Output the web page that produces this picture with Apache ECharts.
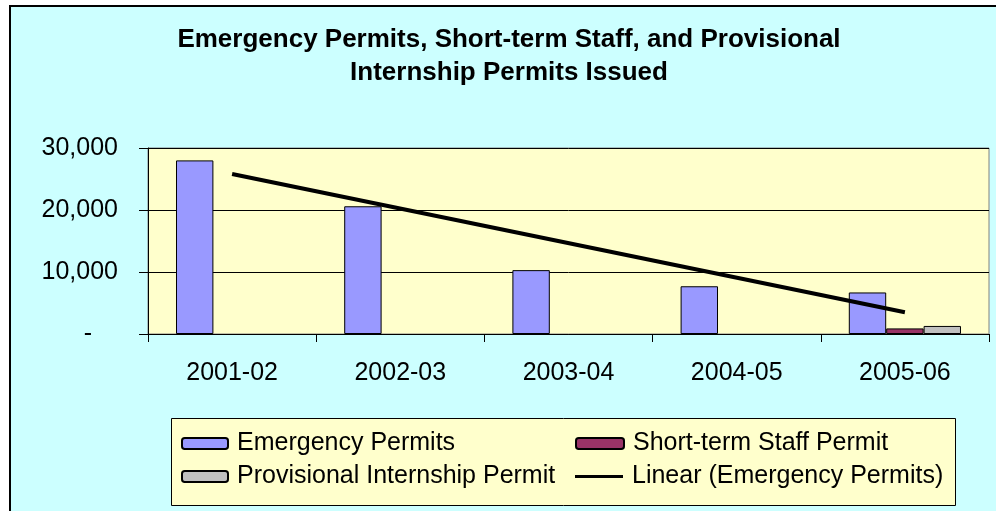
<!DOCTYPE html>
<html>
<head>
<meta charset="utf-8">
<title>Emergency Permits</title>
<script src="https://cdn.jsdelivr.net/npm/echarts@6/dist/echarts.min.js"></script>
<style>
  html, body { margin: 0; padding: 0; background: #fff; }
  #chart { width: 996px; height: 511px; }
</style>
</head>
<body>
<div id="chart"></div>
<script>
// 学年
const years = ['2001-02', '2002-03', '2003-04', '2004-05', '2005-06']
// 各类许可数量
const emergency = [28000, 20600, 10300, 7700, 6700]
const shortTerm = [null, null, null, null, 900]
const provisional = [null, null, null, null, 1300]
// 线性趋势线，只取两端读数
const trend = [25800, '-', '-', '-', 3500]
const yTicks = [0, 10000, 20000, 30000]

const font = '"Liberation Sans", Arial, sans-serif'
const chart = echarts.init(document.getElementById('chart'), null, { renderer: 'canvas' })

const barStyle = (color) => ({ color: color, borderColor: '#000', borderWidth: 1 })
const legendText = { fontFamily: font, fontSize: 25, color: '#000', padding: [0, 0, 0, 4] }

chart.setOption({
  animation: false,
  textStyle: { fontFamily: font, color: '#000' },
  title: {
    text: 'Emergency Permits, Short-term Staff, and Provisional\nInternship Permits Issued',
    left: 509,
    top: 23,
    textAlign: 'center',
    padding: 0,
    textStyle: { fontFamily: font, fontSize: 26, fontWeight: 'bold', lineHeight: 33, color: '#000' }
  },
  graphic: [
    // 外框
    {
      type: 'rect', z: -10, silent: true,
      shape: { x: 10, y: 6, width: 1000, height: 520 },
      style: { fill: '#CCFFFF', stroke: '#000', lineWidth: 2 }
    },
    // 图例框
    {
      type: 'rect', z: -5, silent: true,
      shape: { x: 171.5, y: 418.5, width: 784, height: 87 },
      style: { fill: '#FFFFCC', stroke: '#000', lineWidth: 1 }
    }
  ],
  grid: {
    left: 148, right: 7, top: 148, bottom: 177,
    show: true, backgroundColor: '#FFFFCC', borderColor: '#808080', borderWidth: 1
  },
  legend: [
    {
      orient: 'vertical', left: 181, top: 431, padding: 0,
      itemWidth: 46, itemHeight: 11, itemGap: 8,
      textStyle: legendText,
      data: ['Emergency Permits', 'Provisional Internship Permit']
    },
    {
      orient: 'vertical', left: 575, top: 431, padding: 0,
      itemWidth: 48, itemHeight: 11, itemGap: 8,
      textStyle: legendText,
      data: ['Short-term Staff Permit']
    },
    {
      orient: 'vertical', left: 575, top: 464, padding: 0,
      itemWidth: 48, itemHeight: 3,
      icon: 'rect',
      itemStyle: { color: '#000', borderWidth: 0 },
      textStyle: legendText,
      data: ['Linear (Emergency Permits)']
    }
  ],
  xAxis: {
    type: 'category',
    data: years,
    boundaryGap: true,
    axisLine: { lineStyle: { color: '#000', width: 1 } },
    axisTick: { show: true, length: 8, lineStyle: { color: '#000' } },
    axisLabel: { fontFamily: font, fontSize: 25, color: '#000', margin: 27 },
    splitLine: { show: false }
  },
  yAxis: {
    type: 'value',
    min: yTicks[0],
    max: yTicks[yTicks.length - 1],
    interval: 10000,
    axisLine: { show: true, lineStyle: { color: '#000', width: 1 } },
    axisTick: { show: true, length: 9, lineStyle: { color: '#000' } },
    axisLabel: {
      fontFamily: font, fontSize: 25, color: '#000', margin: 30,
      formatter: (v) => v === 0 ? '{d|-}' : v.toLocaleString('en-US'),
      rich: { d: { fontFamily: font, fontSize: 25, color: '#000', padding: [0, 26, 0, 0] } }
    },
    splitLine: { show: true, lineStyle: { color: '#000', width: 1 } }
  },
  series: [
    {
      name: 'Emergency Permits', type: 'bar', data: emergency,
      barGap: '0%', barCategoryGap: '33.3%',
      itemStyle: barStyle('#9999FF')
    },
    {
      name: 'Short-term Staff Permit', type: 'bar', data: shortTerm,
      itemStyle: barStyle('#993366')
    },
    {
      name: 'Provisional Internship Permit', type: 'bar', data: provisional,
      itemStyle: barStyle('#C0C0C0')
    },
    {
      name: 'Linear (Emergency Permits)', type: 'line', data: trend,
      symbol: 'none', connectNulls: true, z: 5,
      lineStyle: { color: '#000', width: 4 },
      itemStyle: { color: '#000' }
    }
  ]
})
</script>
</body>
</html>
